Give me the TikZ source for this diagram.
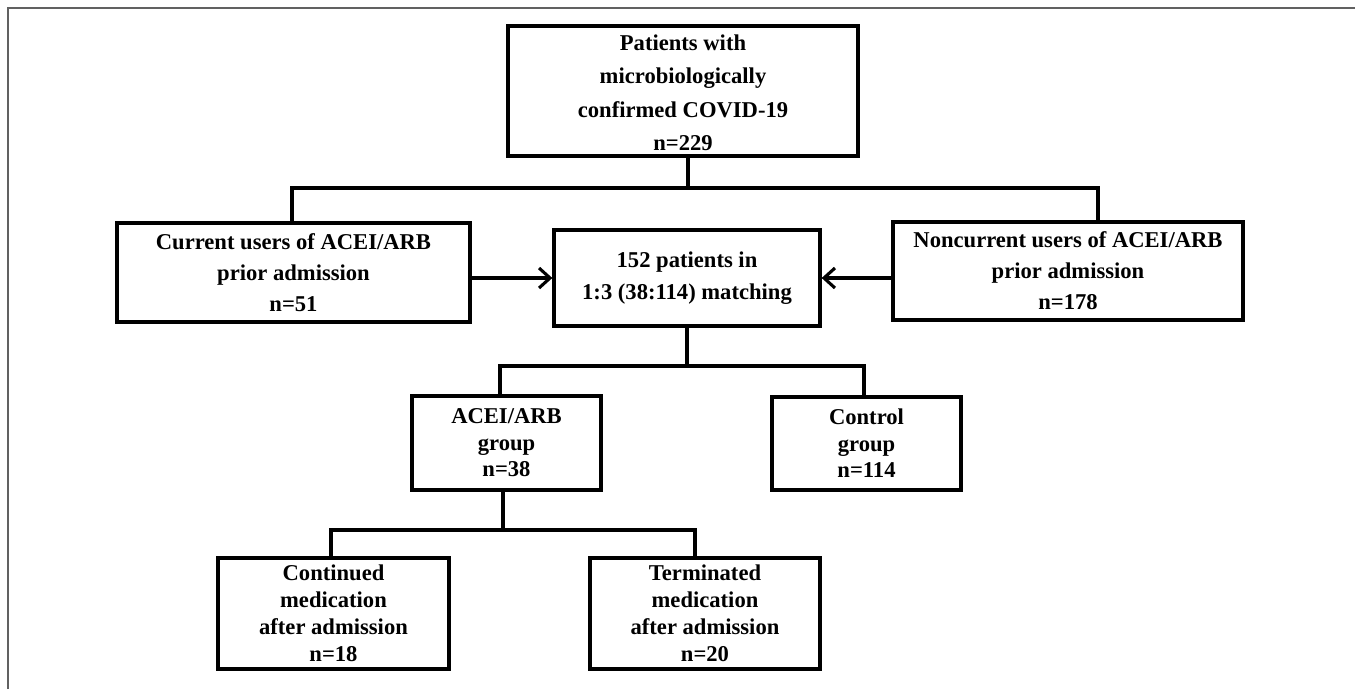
\documentclass[tikz,border=0pt]{standalone}
\usepackage{fontspec}
\setmainfont{Liberation Serif}
\usetikzlibrary{arrows.meta,calc}
\tikzset{
  box/.style={draw=black, line width=3.3pt, inner sep=0pt, align=center, fill=white,
              font=\fontsize{22.6}{#1}\selectfont\bfseries},
  box/.default=33,
  conn/.style={draw=black, line width=3.1pt},
  arr/.style={conn, -{Straight Barb[length=11pt,width=20pt,line width=3.1pt]}},
  frame/.style={draw=black!62, line width=1.4pt}
}
\begin{document}
\begin{tikzpicture}[x=1pt,y=-1pt]
\useasboundingbox (0,0) rectangle (1355,689);
\draw[frame] (8,689) -- (8,8) -- (1355,8);

\node[box=33.3, minimum width=350pt, minimum height=130pt] (top) at (683,91)
  {\rule{0pt}{19pt}Patients with\\microbiologically\\confirmed COVID-19\\n=229};
\node[box=31, minimum width=353pt, minimum height=99pt] (cur) at (293.5,272.5)
  {Current users of ACEI/ARB\\prior admission\\n=51};
\node[box=31, minimum width=350pt, minimum height=98pt] (non) at (1068,271)
  {Noncurrent users of ACEI/ARB\\prior admission\\n=178};
\node[box=32, minimum width=266pt, minimum height=96pt] (match) at (687,278)
  {152 patients in\\1:3 (38:114) matching};
\node[box=26.5, minimum width=189pt, minimum height=94pt] (acei) at (506.5,443)
  {ACEI/ARB\\group\\n=38};
\node[box=26.5, minimum width=189pt, minimum height=93pt] (ctrl) at (866.5,443.5)
  {Control\\group\\n=114};
\node[box=27, minimum width=231pt, minimum height=111pt] (cont) at (333.5,613.5)
  {Continued\\medication\\after admission\\n=18};
\node[box=27, minimum width=230pt, minimum height=111pt] (term) at (705,613.5)
  {Terminated\\medication\\after admission\\n=20};

\coordinate (j1) at (688,188);
\coordinate (lj) at (292,188);
\coordinate (nj) at (1098,188);
\coordinate (a1) at (500,366);
\coordinate (c1) at (864,366);
\coordinate (b1) at (331,530);
\coordinate (b2) at (695,530);
\coordinate (d1) at (503,530);

\draw[conn] (top.south -| j1) -- (j1);
\draw[conn] (lj |- cur.north) -- (lj) -- (nj) -- (nj |- non.north);
\draw[arr] (match.west -| cur.east) -- (match.west);
\draw[arr] (match.east -| non.west) -- (match.east);
\draw[conn] (match.south) -- (match.south |- a1);
\draw[conn] (a1 |- acei.north) -- (a1) -- (c1) -- (c1 |- ctrl.north);
\draw[conn] (acei.south -| d1) -- (d1);
\draw[conn] (b1 |- cont.north) -- (b1) -- (b2) -- (b2 |- term.north);
\end{tikzpicture}
\end{document}
